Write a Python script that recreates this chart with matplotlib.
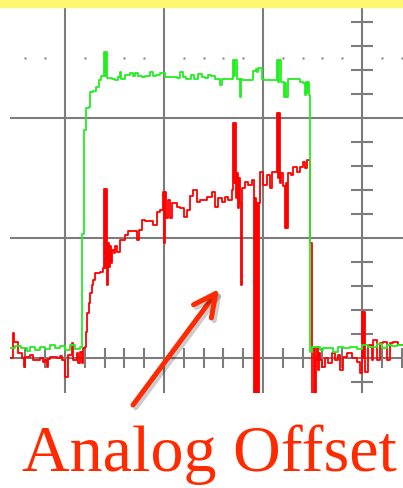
import matplotlib
matplotlib.use("Agg")
import numpy as np
import matplotlib.pyplot as plt
from matplotlib.patches import FancyArrowPatch, Rectangle
import matplotlib.patheffects as pe

# scope screen units: 99 time units per major division, 120 level units per division
DIV_T = 99
DIV_V = 120

# green channel (digital output)
green_t = [-55, -50, -44, -38, -35, -30, -25, -20, -15, -10, -5, 0, 5, 10, 15,
           17, 19, 21, 24, 25, 28, 31, 34, 36, 39, 40, 41, 42, 47, 50, 53, 55, 56,
           60, 65, 68, 70, 73, 77, 80, 85, 88, 91, 95, 100, 108, 112, 115, 118,
           121, 126, 129, 133, 137, 140, 143, 146, 150, 155, 157, 168, 169, 170,
           172, 175, 176, 177, 188, 191, 192, 193, 197, 199, 212, 213, 214, 216,
           219, 220, 221, 223, 235, 238, 240, 241, 242, 243, 244, 245, 247, 255,
           258, 268, 273, 278, 285, 292, 297, 303, 312, 317, 322, 327, 332, 338]
green_v = [10, 12, 10, 7, 11, 8, 11, 9, 13, 10, 12, 8, 13, 9, 11,
           124, 228, 250, 251, 266, 267, 271, 278, 282, 306, 282, 306, 280, 279, 278, 281, 286, 279,
           283, 285, 282, 285, 282, 281, 282, 286, 282, 283, 285, 281, 281, 280, 286, 281,
           279, 283, 279, 284, 281, 280, 283, 282, 279, 273, 279, 298, 282, 298,
           279, 261, 279, 278, 287, 289, 286, 290, 279, 278, 298, 276, 298, 276,
           261, 275, 261, 279, 276, 275, 263, 276, 265, 276, 263, 6, 11, 8,
           10, 6, 11, 10, 11, 9, 13, 11, 14, 10, 13, 12, 13, 13]

# red channel (analog signal)
red_t = [-55, -52, -51, -47, -43, -41, -40, -35, -32, -25, -22, -20, -18, -17, -15,
         -8, -5, -3, 0, 3, 7, 8, 12, 13, 15, 17, 18,
         20, 21, 22, 24, 25, 27, 28, 30, 35, 38,
         39, 40, 41, 42,
         43, 44, 45, 46, 47, 49, 50, 52, 55, 60, 63, 72, 74, 77, 80, 88, 92, 95,
         98, 99, 100, 101, 103, 105, 107, 112, 115, 119, 122, 125, 128, 132, 135,
         142, 147, 150, 153, 157, 160, 163, 167,
         168, 169, 170, 171, 172, 173, 174, 175, 176, 177, 180, 183, 187,
         189, 190, 191, 192, 193, 194, 195, 198, 202, 205, 207,
         212, 213, 214, 215, 216, 218, 220, 221, 222, 223, 226, 228, 232, 235,
         238, 240, 242,
         245, 247, 249, 250, 251, 252, 253, 254, 255, 257, 260, 263, 267, 270,
         273, 275, 278, 282, 287, 292, 295, 297, 298, 299, 300, 303, 307, 308,
         312, 315, 318, 322, 325, 328, 333, 338]
red_v = [0, 25, 16, 5, 0, -9, 1, 3, -2, 0, -4, -2, -9, -1, 1,
         0, 2, -2, -19, 3, 15, -2, 5, -5, 6, -5, 10,
         11, 26, 45, 55, 65, 73, 78, 85, 86, 90,
         169, 90, 169, 73,
         115, 91, 112, 95, 108, 105, 112, 106, 118, 123, 127, 118, 128, 138, 137, 133, 146, 148,
         166, 115, 166, 140, 158, 140, 155, 151, 150, 141, 148, 162, 168, 156, 158,
         161, 166, 151, 160, 156, 161, 158, 168,
         235, 175, 235, 160, 185, 150, 180, 155, 73, 170, 176, 173, 178,
         -60, 160, -60, 155, -60, 155, 186, 173, 183, 170, 186,
         245, 180, 245, 175, 185, 172, 130, 175, 130, 185, 183, 191, 186, 191,
         196, 190, 198,
         115, -60, 10, -60, -2, 11, -12, 5, -2, -9, 0, -5, 5, -2,
         3, -12, 1, 5, 0, -4, -15, 46, 0, 46, -14, 13, -2, 18,
         -2, 15, 16, -2, 15, 16, 13, 13]

grid_col = '#7c7c7c'

fig = plt.figure(figsize=(4.03, 4.88), dpi=100)
ax = fig.add_axes([10 / 403, 95 / 488, 393 / 403, 386 / 488])
ax.set_xlim(-55, 338)
ax.set_ylim(-35, 351)
ax.axis('off')

# graticule
for k in range(4):
    ax.axvline(k * DIV_T, color=grid_col, lw=1.5, zorder=1)
for k in range(3):
    ax.axhline(k * DIV_V, color=grid_col, lw=1.5, zorder=1)

minor_t = np.array([k * DIV_T / 5 for k in range(-2, 18) if k % 5 != 0])
minor_v = np.array([k * DIV_V / 5 for k in range(-1, 15) if k % 5 != 0])
ax.vlines(minor_t, -10, 10, color=grid_col, lw=1.5, zorder=1)
ax.hlines(minor_v, 3 * DIV_T - 11, 3 * DIV_T + 11, color=grid_col, lw=1.5, zorder=1)
ax.plot(minor_t, np.full(len(minor_t), 2.5 * DIV_V), 's', ms=1.5,
        color=grid_col, mec='none', zorder=1)

# traces
ax.plot(red_t, red_v, drawstyle='steps-post', color='#ff0000', lw=1.3, zorder=2)
ax.plot(green_t, green_v, drawstyle='steps-post', color='#22ee22', lw=1.3, zorder=3)

# yellow strip on top
fig.patches.append(Rectangle((0, 1 - 7 / 488), 1, 7 / 488, transform=fig.transFigure,
                             color='#fff870', zorder=0))

# annotation arrow and label
arrow = FancyArrowPatch((133 / 403, 1 - 405 / 488), (219 / 403, 1 - 289 / 488),
                        transform=fig.transFigure,
                        arrowstyle='->,head_length=1.6,head_width=0.8',
                        mutation_scale=10, lw=3.6, color='#ff2a00',
                        capstyle='round', joinstyle='round',
                        shrinkA=0, shrinkB=0,
                        path_effects=[pe.SimpleLineShadow(offset=(2, -2), shadow_color='k', alpha=0.2),
                                      pe.Normal()])
fig.patches.append(arrow)

fig.text(209.5 / 403, 1 - 471 / 488, 'Analog Offset', family='Liberation Serif',
         fontsize=47.5, color='#ff2a00', ha='center', va='baseline')

fig.savefig('out.png', dpi=100)
